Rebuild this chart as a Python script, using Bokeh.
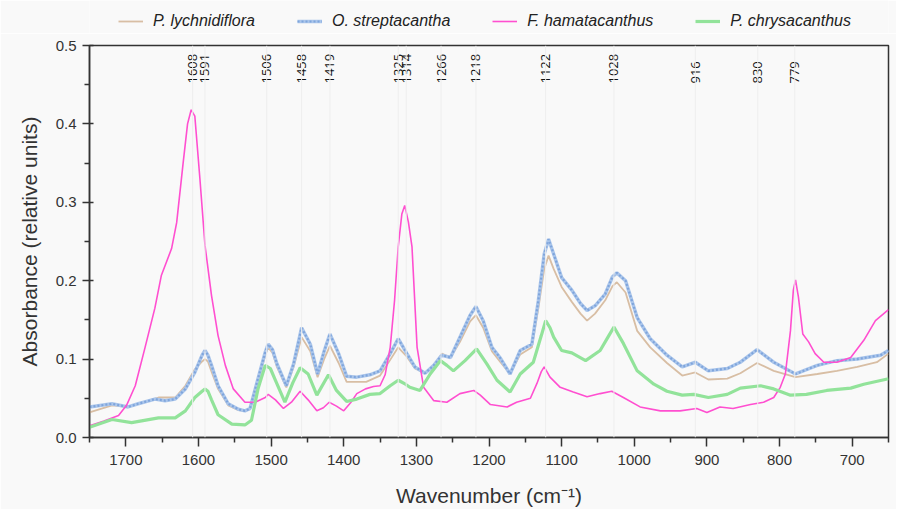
from bokeh.plotting import figure
from bokeh.layouts import column
from bokeh.models import (ColumnDataSource, Range1d, Legend, LegendItem, FixedTicker,
                          Span, NumeralTickFormatter)
from bokeh.core.properties import value
from bokeh.embed import file_html
from bokeh.resources import INLINE

# ---------------- data ----------------
wn_fh = [1750,1730,1710,1699,1687,1674,1660,1651,1637,1630,1621,1615,1610,1605,1598,1591,1582,1573,1563,1552,
         1536,1522,1508,1504,1494,1483,1472,1460,1449,1437,1428,1420,1410,1400,1390,1382,1370,1359,1350,1343,
         1336,1330,1325,1320,1316,1311,1306,1299,1290,1276,1258,1240,1221,1212,1198,1175,1162,1143,1134,1128,
         1124,1116,1102,1084,1065,1047,1031,1015,992,964,937,914,900,882,864,840,822,808,799,792,
         785,781,778,774,768,760,751,739,721,702,684,668,650]
ab_fh = [0.015,0.021,0.028,0.041,0.066,0.113,0.165,0.207,0.241,0.274,0.351,0.400,0.418,0.410,0.330,0.245,0.181,0.130,0.092,0.062,
         0.045,0.045,0.051,0.055,0.048,0.037,0.045,0.059,0.048,0.034,0.038,0.045,0.040,0.034,0.045,0.056,0.062,0.065,0.066,0.080,
         0.115,0.175,0.243,0.285,0.296,0.275,0.243,0.115,0.064,0.047,0.045,0.056,0.060,0.054,0.042,0.039,0.045,0.050,0.069,0.084,
         0.090,0.077,0.064,0.058,0.052,0.056,0.059,0.051,0.039,0.034,0.034,0.037,0.032,0.039,0.037,0.042,0.045,0.051,0.064,0.081,
         0.136,0.188,0.201,0.179,0.132,0.122,0.107,0.096,0.096,0.102,0.124,0.149,0.163]

wn_os = [1750,1719,1697,1683,1660,1646,1632,1618,1605,1595,1591,1587,1582,1573,1559,1545,1536,1529,1518,1508,
         1504,1498,1492,1479,1469,1458,1446,1436,1427,1419,1407,1396,1382,1364,1350,1336,1325,1313,1302,1288,
         1276,1265,1253,1240,1226,1218,1208,1196,1185,1171,1157,1141,1132,1124,1118,1111,1100,1086,1074,1065,
         1054,1040,1030,1024,1012,996,978,955,934,916,898,872,854,831,808,778,748,721,693,661,650]
ab_os = [0.039,0.043,0.039,0.043,0.049,0.047,0.049,0.062,0.083,0.105,0.111,0.105,0.092,0.066,0.043,0.036,0.034,0.037,0.075,0.109,
         0.119,0.112,0.094,0.066,0.094,0.140,0.119,0.081,0.110,0.132,0.107,0.078,0.077,0.080,0.085,0.107,0.126,0.107,0.090,0.082,
         0.092,0.105,0.102,0.128,0.156,0.167,0.149,0.115,0.102,0.081,0.111,0.119,0.175,0.234,0.253,0.234,0.204,0.188,0.171,0.162,
         0.168,0.183,0.205,0.210,0.200,0.153,0.126,0.105,0.090,0.096,0.085,0.088,0.096,0.112,0.096,0.081,0.092,0.098,0.100,0.105,0.111]

wn_pl = [1750,1719,1697,1683,1655,1632,1618,1605,1595,1591,1587,1582,1573,1559,1545,1536,1529,1518,1508,1504,
         1498,1492,1479,1469,1458,1446,1436,1427,1419,1407,1396,1369,1350,1336,1325,1313,1302,1288,1276,1265,
         1253,1240,1226,1218,1208,1196,1185,1171,1157,1141,1132,1124,1118,1111,1100,1086,1074,1065,1054,1040,
         1030,1024,1012,996,978,955,934,916,898,872,854,831,808,778,748,721,693,666,650]
ab_pl = [0.032,0.041,0.039,0.043,0.051,0.051,0.066,0.087,0.097,0.100,0.097,0.084,0.062,0.041,0.035,0.034,0.036,0.071,0.105,0.115,
         0.108,0.090,0.064,0.090,0.128,0.110,0.077,0.100,0.117,0.095,0.071,0.071,0.079,0.099,0.115,0.103,0.088,0.082,0.090,0.107,
         0.102,0.122,0.148,0.156,0.140,0.110,0.097,0.081,0.106,0.115,0.165,0.215,0.232,0.215,0.192,0.173,0.158,0.149,0.158,0.175,
         0.193,0.198,0.185,0.136,0.115,0.095,0.079,0.083,0.074,0.075,0.082,0.095,0.085,0.077,0.081,0.085,0.090,0.096,0.107]

wn_pc = [1750,1719,1692,1655,1632,1618,1605,1595,1591,1587,1582,1573,1554,1536,1527,1518,1508,1501,1494,1481,
         1470,1460,1449,1437,1421,1410,1396,1382,1364,1350,1336,1325,1315,1309,1295,1281,1267,1258,1249,1233,
         1217,1203,1189,1171,1157,1139,1128,1122,1116,1111,1100,1086,1067,1047,1035,1028,1015,996,973,955,
         934,918,898,872,854,826,808,785,763,735,702,684,650]
ab_pc = [0.013,0.023,0.019,0.025,0.025,0.034,0.051,0.059,0.062,0.059,0.048,0.029,0.017,0.016,0.022,0.062,0.092,0.088,0.073,0.045,
         0.070,0.089,0.081,0.054,0.080,0.060,0.046,0.049,0.055,0.056,0.066,0.073,0.068,0.064,0.060,0.081,0.098,0.092,0.085,0.098,
         0.113,0.094,0.073,0.058,0.081,0.096,0.130,0.149,0.140,0.128,0.111,0.108,0.098,0.111,0.130,0.141,0.120,0.085,0.068,0.059,
         0.054,0.055,0.051,0.055,0.063,0.066,0.062,0.054,0.055,0.060,0.063,0.068,0.075]

peaks = [1608, 1591, 1506, 1458, 1419, 1325, 1314, 1266, 1218, 1122, 1028, 916, 830, 779]
peak_labels = [str(v) for v in peaks]

series_names = ["P. lychnidiflora", "O. streptacantha", "F. hamatacanthus", "P. chrysacanthus"]
x_ticks = [700, 800, 900, 1000, 1100, 1200, 1300, 1400, 1500, 1600, 1700]
y_ticks = [0.0, 0.1, 0.2, 0.3, 0.4, 0.5]

for a, b in [(wn_fh, ab_fh), (wn_os, ab_os), (wn_pl, ab_pl), (wn_pc, ab_pc)]:
    assert len(a) == len(b), (len(a), len(b))

# ---------------- styles ----------------
BG = "#f9f9f9"
AX = "#333333"
FONT = "Liberation Sans"
W = 896
LEG_H = 33
H = 509 - LEG_H
BL, BR, BB = 89, 8, 72
BT = 45 - LEG_H

STY_PL = dict(line_color="#d8bea4", line_width=1.8)
STY_OS1 = dict(line_color="#abc6eb", line_width=3.5)
STY_OS2 = dict(line_color="#7fa5dc", line_width=2.2, line_dash="2 2")
STY_FH = dict(line_color="#ff4fd0", line_width=1.6)
STY_PC = dict(line_color="#92e39a", line_width=3.2)

# ---------------- main figure ----------------
p = figure(width=W, height=H, output_backend="svg", toolbar_location=None,
           x_range=Range1d(1750, 650), y_range=Range1d(0, 0.5),
           min_border_left=BL, min_border_right=BR, min_border_top=BT, min_border_bottom=BB)
p.background_fill_color = BG
p.border_fill_color = BG
p.outline_line_color = AX
p.outline_line_width = 1.5
p.xgrid.visible = False
p.ygrid.visible = False

for pk in peaks:
    p.add_layout(Span(location=pk, dimension="height", line_color="#eeeeee", line_width=1))

p.line(wn_pl, ab_pl, **STY_PL)
p.line(wn_os, ab_os, **STY_OS1)
p.line(wn_os, ab_os, **STY_OS2)
p.line(wn_fh, ab_fh, **STY_FH)
p.line(wn_pc, ab_pc, **STY_PC)

src_pk = ColumnDataSource(dict(x=peaks, y=[0.4515] * len(peaks), t=peak_labels))
p.text(x="x", y="y", text="t", source=src_pk, angle=1.5708, text_align="left",
       text_baseline="middle", text_font=value("Open Sans"), text_font_size="13px",
       text_color="#111111")

for ax in (p.xaxis[0], p.yaxis[0]):
    ax.axis_line_color = AX
    ax.axis_line_width = 1.5
    ax.major_tick_line_color = AX
    ax.minor_tick_line_color = AX
    ax.major_tick_line_width = 1.5
    ax.minor_tick_line_width = 1.5
    ax.major_label_text_font = FONT
    ax.major_label_text_color = AX
    ax.major_label_text_font_size = "15px"
    ax.axis_label_text_font = FONT
    ax.axis_label_text_font_style = "normal"
    ax.axis_label_text_color = AX
    ax.axis_label_text_font_size = "21px"

p.xaxis.ticker = FixedTicker(ticks=x_ticks, minor_ticks=[750 + 100 * i for i in range(-1, 11)])
p.xaxis.major_tick_out = 9
p.xaxis.major_tick_in = 0
p.xaxis.minor_tick_out = 5
p.xaxis.minor_tick_in = 0
p.xaxis.major_label_standoff = 8
p.xaxis.axis_label = "Wavenumber (cm\u207b\u00b9)"
p.xaxis.axis_label_standoff = 16

p.yaxis.ticker = FixedTicker(ticks=y_ticks, minor_ticks=[0.05, 0.15, 0.25, 0.35, 0.45])
p.yaxis.formatter = NumeralTickFormatter(format="0.0")
p.yaxis.major_tick_out = 7
p.yaxis.major_tick_in = 4
p.yaxis.minor_tick_out = 5
p.yaxis.minor_tick_in = 0
p.yaxis.major_label_standoff = 6
p.yaxis.axis_label = "Absorbance (relative units)"
p.yaxis.axis_label_standoff = 12

# ---------------- legend strip ----------------
lg = figure(width=W, height=LEG_H, output_backend="svg", toolbar_location=None,
            x_range=Range1d(0, 1), y_range=Range1d(0, 1),
            min_border_left=0, min_border_right=0, min_border_top=0, min_border_bottom=0)
lg.axis.visible = False
lg.grid.visible = False
lg.outline_line_color = None
lg.background_fill_color = BG
lg.border_fill_color = BG
g_pl = lg.line(wn_pl, ab_pl, **STY_PL)
g_os1 = lg.line(wn_os, ab_os, **STY_OS1)
g_os2 = lg.line(wn_os, ab_os, **STY_OS2)
g_fh = lg.line(wn_fh, ab_fh, **STY_FH)
g_pc = lg.line(wn_pc, ab_pc, **STY_PC)

legend = Legend(items=[
    LegendItem(label=series_names[0], renderers=[g_pl]),
    LegendItem(label=series_names[1], renderers=[g_os1, g_os2]),
    LegendItem(label=series_names[2], renderers=[g_fh]),
    LegendItem(label=series_names[3], renderers=[g_pc]),
], orientation="horizontal", location=(27, 0))
legend.label_text_font = FONT
legend.label_text_font_style = "italic"
legend.label_text_font_size = "16px"
legend.label_text_color = "#222222"
legend.glyph_width = 25
legend.glyph_height = 20
legend.label_standoff = 10
legend.spacing = 42
legend.padding = 2
legend.margin = 0
legend.border_line_alpha = 0
legend.background_fill_alpha = 0
lg.add_layout(legend, "center")

page = column(lg, p, spacing=0)
open("out.html", "w").write(file_html(page, INLINE))
